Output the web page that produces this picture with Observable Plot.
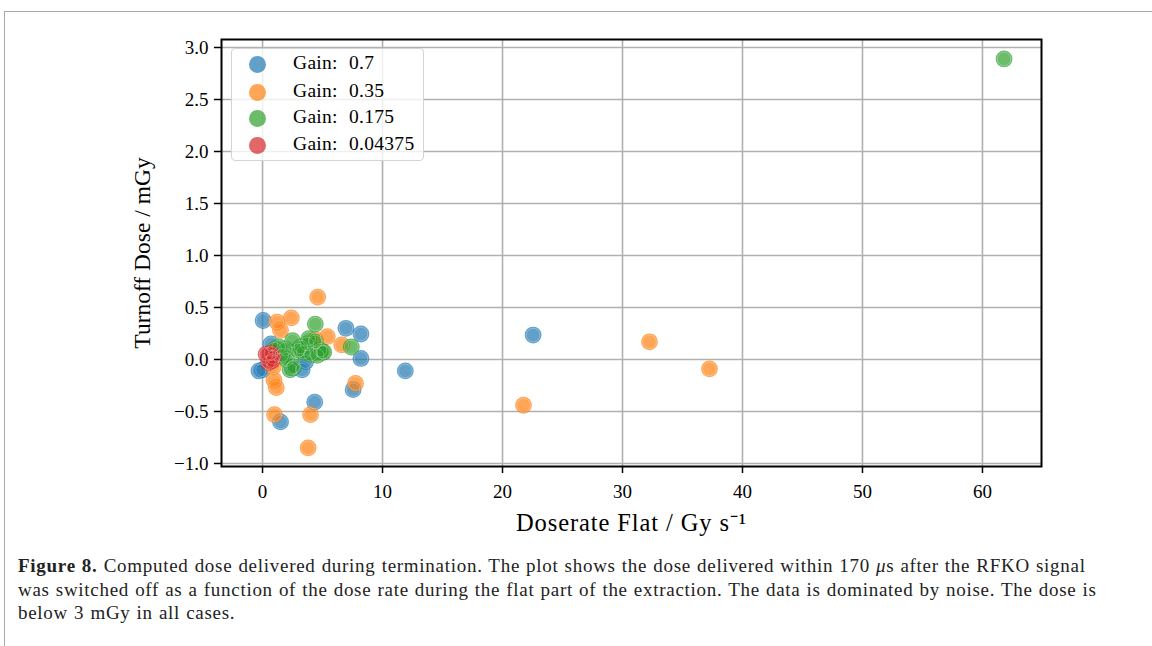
<!DOCTYPE html>
<html>
<head>
<meta charset="utf-8">
<script src="https://cdn.jsdelivr.net/npm/d3@7"></script>
<script src="https://cdn.jsdelivr.net/npm/@observablehq/plot@0.6"></script>
<style>
  html, body { margin: 0; padding: 0; background: #fff; }
  #wrap { position: relative; width: 1152px; height: 646px; overflow: hidden; }
  #border { position: absolute; left: 4px; top: 11px; right: -2px; bottom: -2px;
            border-top: 1px solid #a8a8a8; border-left: 1px solid #a8a8a8; }
  #chart { position: absolute; left: 0; top: 0; }
  #legend { position: absolute; left: 231px; top: 48px; width: 191px; height: 111px;
            border: 1px solid #d4d4d4; border-radius: 4px; background: rgba(255,255,255,0.8);
            font-family: "Liberation Serif", serif; font-size: 19.5px; color: #000; }
  .li { position: absolute; left: 0; height: 20px; }
  .sw { position: absolute; left: 17px; top: 1px; width: 17px; height: 17px; border-radius: 50%; opacity: 0.7; }
  .lt { position: absolute; left: 61px; top: -3px; white-space: nowrap; word-spacing: 6px; letter-spacing: 0.3px; }
  #caption { position: absolute; left: 18px; top: 554px; width: 1132px;
             font-family: "Liberation Serif", serif; font-size: 19px; line-height: 23.5px;
             letter-spacing: 0.72px; word-spacing: 0.6px; color: #222; white-space: nowrap; }
</style>
</head>
<body>
<div id="wrap">
  <div id="border"></div>
  <div id="chart"></div>
  <div id="legend"></div>
  <div id="caption"></div>
</div>
<script>
// ---- data ----
const gains = ["0.7", "0.35", "0.175", "0.04375"];
const colors = ["#1f77b4", "#ff7f0e", "#2ca02c", "#d62728"];

const blueX = [0.05, -0.3, 0.0, 0.7, 3.3, 3.6, 2.5, 6.95, 8.2, 8.2, 11.9, 7.55, 4.35, 1.5, 22.55];
const blueY = [0.375, -0.11, -0.10, 0.15, -0.10, -0.02, -0.08, 0.30, 0.245, 0.01, -0.11, -0.29, -0.41, -0.60, 0.235];

const orangeX = [4.6, 2.4, 1.2, 1.5, 5.4, 6.6, 4.4, 0.95, 1.15, 7.75, 1.0, 4.0, 3.8, 21.75, 32.25, 37.25, 0.9];
const orangeY = [0.60, 0.40, 0.36, 0.28, 0.22, 0.14, 0.19, -0.20, -0.27, -0.23, -0.53, -0.53, -0.85, -0.44, 0.17, -0.09, -0.07];

const greenX = [61.8, 4.4, 7.4, 2.5, 3.85, 4.4, 5.1, 4.8, 3.0, 1.9, 1.35, 2.6, 2.3, 1.6, 3.4, 4.0, 4.55, 3.7, 2.0, 1.0, 3.2, 5.0];
const greenY = [2.89, 0.34, 0.12, 0.18, 0.20, 0.17, 0.07, 0.09, 0.09, 0.10, 0.12, -0.07, -0.10, 0.04, 0.07, 0.05, 0.04, 0.15, 0.0, 0.10, 0.12, 0.07];

const redX = [0.3, 0.7, 0.9, 0.5, 0.8];
const redY = [0.05, 0.06, 0.02, -0.03, -0.01];

const xTicks = [0, 10, 20, 30, 40, 50, 60];
const yTicks = [-1.0, -0.5, 0.0, 0.5, 1.0, 1.5, 2.0, 2.5, 3.0];

const xLabel = "Doserate Flat / Gy s\u207B\u00B9";
const yLabel = "Turnoff Dose / mGy";

// ---- table ----
const series = [[blueX, blueY], [orangeX, orangeY], [greenX, greenY], [redX, redY]];
const data = [];
series.forEach(([xs, ys], i) => xs.forEach((x, j) => data.push({x, y: ys[j], gain: gains[i], color: colors[i]})));

const fmt = d => d.toFixed(1).replace("-", "\u2212");

const plot = Plot.plot({
  width: 1152,
  height: 540,
  marginLeft: 221,
  marginRight: 111,
  marginTop: 39,
  marginBottom: 74,
  style: { fontFamily: "Liberation Serif, serif", fontSize: "19px", background: "transparent", color: "#000" },
  x: { domain: [-3.42, 64.92] },
  y: { domain: [-1.029, 3.077] },
  marks: [
    Plot.gridX(xTicks, { stroke: "#b0b0b0", strokeOpacity: 1, strokeWidth: 1.6 }),
    Plot.gridY(yTicks, { stroke: "#b0b0b0", strokeOpacity: 1, strokeWidth: 1.6 }),
    Plot.dot(data, { x: "x", y: "y", r: 8.4, fill: "color", fillOpacity: 0.7, stroke: "none" }),
    Plot.dot(data, { x: "x", y: "y", r: 6.8, fill: "none", stroke: "white", strokeOpacity: 0.3, strokeWidth: 0.9 }),
    Plot.frame({ stroke: "black", strokeWidth: 2 }),
    Plot.axisX(xTicks, { tickSize: 7, tickPadding: 11, strokeWidth: 1.5, stroke: "black",
      label: xLabel, labelAnchor: "center", labelOffset: 64, labelArrow: "none", fontSize: 19, tickFormat: d => String(d) }),
    Plot.axisY(yTicks, { tickSize: 7, tickPadding: 6, strokeWidth: 1.5, stroke: "black", tickFormat: fmt,
      label: yLabel, labelAnchor: "center", labelOffset: 88, labelArrow: "none", fontSize: 19 })
  ]
});
// style axis labels, strip any arrows
const sel = d3.select(plot);
sel.selectAll("g[aria-label='x-axis label'] text, g[aria-label='y-axis label'] text")
  .each(function () { this.textContent = this.textContent.replace(/\s*[\u2190-\u2193]\s*/g, ""); })
  .style("font-size", "23.5px");
sel.selectAll("g[aria-label='x-axis label'] text")
  .style("font-size", "24.5px")
  .style("letter-spacing", "0.9px");
document.getElementById("chart").appendChild(plot);

// ---- legend ----
const legend = document.getElementById("legend");
const rows = [6, 34, 60, 87];
gains.forEach((g, i) => {
  const row = document.createElement("div");
  row.className = "li";
  row.style.top = rows[i] + "px";
  row.innerHTML = `<div class="sw" style="background:${colors[i]}"></div><div class="lt">Gain: ${g}</div>`;
  legend.appendChild(row);
});

// ---- caption ----
document.getElementById("caption").innerHTML =
  "<b>Figure 8.</b> Computed dose delivered during termination. The plot shows the dose delivered within 170 <i>\u03BC</i>s after the RFKO signal<br>" +
  "was switched off as a function of the dose rate during the flat part of the extraction. The data is dominated by noise. The dose is<br>" +
  "below 3 mGy in all cases.";
</script>
</body>
</html>
